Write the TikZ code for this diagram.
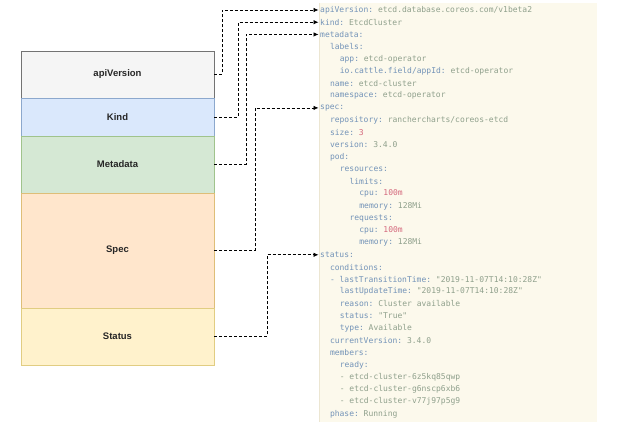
\documentclass[tikz,border=0pt]{standalone}
\usepackage{fontspec}
\setmainfont{Liberation Sans}
\setmonofont{DejaVu Sans Mono}
\usetikzlibrary{arrows.meta}
\definecolor{keyc}{HTML}{7393B8}
\definecolor{valc}{HTML}{8FA08C}
\definecolor{redc}{HTML}{D4687C}
\definecolor{panelc}{HTML}{FCF9EC}
\definecolor{paneledge}{HTML}{ECE6D2}
\newcommand{\yk}[1]{\textcolor{keyc}{#1}}
\newcommand{\yv}[1]{\textcolor{valc}{#1}}
\newcommand{\yr}[1]{\textcolor{redc}{#1}}
\tikzset{
  part/.style={draw, line width=0.6pt, minimum width=193pt, inner sep=0pt, font=\fontsize{9.5}{11}\selectfont\bfseries, text=black!85},
  yline/.style={anchor=west, inner sep=0pt, font=\ttfamily\fontsize{8}{9}\selectfont},
  link/.style={densely dashed, line width=0.7pt, -{Latex[length=5pt,width=4.5pt]}}
}
\begin{document}
\begin{tikzpicture}[x=1pt,y=-1pt]
\useasboundingbox (0,0) rectangle (640,427);
\fill[white] (0,0) rectangle (640,427);
% code panel
\fill[panelc] (319,3) rectangle (597,422);
\draw[paneledge, line width=0.6pt] (319,3) -- (319,422);
% left parts
\node[part, fill=black!4, draw=black!55, minimum height=47pt] (av) at (117.5,74.5) {apiVersion};
\node[part, fill={rgb,255:red,218;green,232;blue,252}, draw={rgb,255:red,140;green,168;blue,205}, minimum height=38pt] (kd) at (117.5,117) {Kind};
\node[part, fill={rgb,255:red,213;green,232;blue,212}, draw={rgb,255:red,160;green,195;blue,140}, minimum height=57pt] (md) at (117.5,164.5) {Metadata};
\node[part, fill={rgb,255:red,255;green,230;blue,204}, draw={rgb,255:red,222;green,190;blue,120}, minimum height=115pt] (sp) at (117.5,250.5) {Spec};
\node[part, fill={rgb,255:red,255;green,242;blue,204}, draw={rgb,255:red,225;green,205;blue,130}, minimum height=57pt] (st) at (117.5,336.5) {Status};
% yaml lines
\def\lx#1{(320+#1*4.9)}
\def\ly#1{(10+#1*12.24)}
\newcommand{\yl}[4]{\node[yline] (#1) at ({320+#2*4.9},{10+#3*12.24}) {#4};}
\yl{l1}{0}{0}{\yk{apiVersion:} \yv{etcd.database.coreos.com/v1beta2}}
\yl{l2}{0}{1}{\yk{kind:} \yv{EtcdCluster}}
\yl{l3}{0}{2}{\yk{metadata:}}
\yl{l4}{2}{3}{\yk{labels:}}
\yl{l5}{4}{4}{\yk{app:} \yv{etcd-operator}}
\yl{l6}{4}{5}{\yk{io.cattle.field/appId:} \yv{etcd-operator}}
\yl{l7}{2}{6}{\yk{name:} \yv{etcd-cluster}}
\yl{l8}{2}{7}{\yk{namespace:} \yv{etcd-operator}}
\yl{l9}{0}{8}{\yk{spec:}}
\yl{l10}{2}{9}{\yk{repository:} \yv{ranchercharts/coreos-etcd}}
\yl{l11}{2}{10}{\yk{size:} \yr{3}}
\yl{l12}{2}{11}{\yk{version:} \yv{3.4.0}}
\yl{l13}{2}{12}{\yk{pod:}}
\yl{l14}{4}{13}{\yk{resources:}}
\yl{l15}{6}{14}{\yk{limits:}}
\yl{l16}{8}{15}{\yk{cpu:} \yr{100m}}
\yl{l17}{8}{16}{\yk{memory:} \yv{128Mi}}
\yl{l18}{6}{17}{\yk{requests:}}
\yl{l19}{8}{18}{\yk{cpu:} \yr{100m}}
\yl{l20}{8}{19}{\yk{memory:} \yv{128Mi}}
\yl{l21}{0}{20}{\yk{status:}}
\yl{l22}{2}{21}{\yk{conditions:}}
\yl{l23}{2}{22}{\yk{- lastTransitionTime:} \yv{"2019-11-07T14:10:28Z"}}
\yl{l24}{4}{23}{\yk{lastUpdateTime:} \yv{"2019-11-07T14:10:28Z"}}
\yl{l25}{4}{24}{\yk{reason:} \yv{Cluster available}}
\yl{l26}{4}{25}{\yk{status:} \yv{"True"}}
\yl{l27}{4}{26}{\yk{type:} \yv{Available}}
\yl{l28}{2}{27}{\yk{currentVersion:} \yv{3.4.0}}
\yl{l29}{2}{28}{\yk{members:}}
\yl{l30}{4}{29}{\yk{ready:}}
\yl{l31}{4}{30}{\yv{- etcd-cluster-6z5kq85qwp}}
\yl{l32}{4}{31}{\yv{- etcd-cluster-g6nscp6xb6}}
\yl{l33}{4}{32}{\yv{- etcd-cluster-v77j97p5g9}}
\yl{l34}{2}{33}{\yk{phase:} \yv{Running}}
% connectors
\draw[link] (av.east) -- ++(8,0) |- ([xshift=-1.5pt]l1.west);
\draw[link] (kd.east) -- ++(24,0) |- ([xshift=-1.5pt]l2.west);
\draw[link] (md.east) -- ++(32,0) |- ([xshift=-1.5pt]l3.west);
\draw[link] (sp.east) -- ++(41,0) |- ([xshift=-1.5pt]l9.west);
\draw[link] (st.east) -- ++(53,0) |- ([xshift=-1.5pt]l21.west);
\end{tikzpicture}
\end{document}
